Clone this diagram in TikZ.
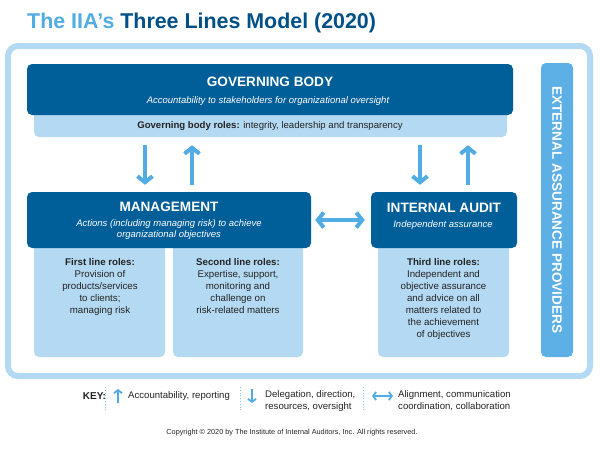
\documentclass[tikz,border=0pt]{standalone}
\usepackage{fontspec}
\setmainfont{Liberation Sans}
\usetikzlibrary{arrows.meta}
\definecolor{iiadark}{RGB}{0,94,152}
\definecolor{iiatitle}{RGB}{0,80,136}
\definecolor{iiasky}{RGB}{80,172,226}
\definecolor{iialight}{RGB}{180,217,242}
\definecolor{iiaext}{RGB}{92,176,230}
\definecolor{iiatext}{RGB}{35,35,35}
\begin{document}
\begin{tikzpicture}[x=1pt,y=-1pt,
   darkbox/.style={fill=iiadark, rounded corners=5pt, inner sep=0pt},
   lightbox/.style={fill=iialight, rounded corners=5pt, inner sep=0pt},
   head/.style={text=white, font=\fontsize{13.6}{15}\selectfont\bfseries},
   sub/.style={text=white, align=center, font=\fontsize{9.5}{11}\selectfont\itshape},
   roles/.style={text=iiatext, align=center, anchor=north, inner sep=0pt,
                 font=\fontsize{9.7}{12}\selectfont},
   keytext/.style={text=iiatext, align=left, anchor=west, inner sep=0pt,
                   font=\fontsize{9.6}{12}\selectfont},
   flow/.style={draw=iiasky, line width=4pt,
                -{Straight Barb[length=6pt,width=15pt]}},
   both/.style={draw=iiasky, line width=4pt,
                {Straight Barb[length=6pt,width=15pt]}-{Straight Barb[length=6pt,width=15pt]}},
   keyflow/.style={draw=iiasky, line width=1.8pt,
                   -{Straight Barb[length=3pt,width=8pt]}},
   keyboth/.style={draw=iiasky, line width=1.8pt,
                   {Straight Barb[length=3pt,width=8pt]}-{Straight Barb[length=3pt,width=8pt]}},
   keysep/.style={draw=iiasky!70, line width=0.8pt, dotted}]

\useasboundingbox (0,0) rectangle (600,448);

\node[anchor=base west, inner sep=0pt, text=iiatitle,
      font=\fontsize{21.4}{24}\selectfont\bfseries] (title) at (27,28)
   {\textcolor{iiasky}{The IIA’s} Three Lines Model (2020)};

\draw[draw=iialight, line width=6pt, rounded corners=10pt] (8,46) rectangle (590,376);

% governing body
\node[lightbox, minimum width=473pt, minimum height=37pt] (gbroles) at (270.5,118.5) {};
\node[darkbox, minimum width=486pt, minimum height=51pt] (gbody) at (270,89.5) {};
\node[head] (gbody-t) at (270,82) {GOVERNING BODY};
\node[sub] (gbody-s) at (268,101) {Accountability to stakeholders for organizational oversight};
\node[text=iiatext, font=\fontsize{9.6}{11}\selectfont] (gbroles-t) at (270,126)
   {\textbf{Governing body roles:} integrity, leadership and transparency};

% management
\node[lightbox, minimum width=131pt, minimum height=127pt] (first) at (99.5,293.5) {};
\node[lightbox, minimum width=130pt, minimum height=127pt] (second) at (238,293.5) {};
\node[darkbox, minimum width=284pt, minimum height=56pt] (mgmt) at (169,220) {};
\node[head] (mgmt-t) at (169,207) {MANAGEMENT};
\node[sub] (mgmt-s) at (169,229.5) {Actions (including managing risk) to achieve\\organizational objectives};
\node[roles] (first-t) at (100,258)
   {\textbf{First line roles:}\\Provision of\\products/services\\to clients;\\managing risk};
\node[roles] (second-t) at (238,258)
   {\textbf{Second line roles:}\\Expertise, support,\\monitoring and\\challenge on\\risk-related matters};

% internal audit
\node[lightbox, minimum width=131pt, minimum height=127pt] (third) at (443.5,293.5) {};
\node[darkbox, minimum width=146pt, minimum height=56pt] (iaudit) at (444,220) {};
\node[head] (iaudit-t) at (444,208) {INTERNAL AUDIT};
\node[sub] (iaudit-s) at (443,225) {Independent assurance};
\node[roles] (third-t) at (443.5,258)
   {\textbf{Third line roles:}\\Independent and\\objective assurance\\and advice on all\\matters related to\\the achievement\\of objectives};

% external assurance
\node[fill=iiaext, rounded corners=5pt, minimum width=32pt, minimum height=294pt] (ext) at (557,210) {};
\node[head, rotate=-90] (ext-t) at (557,210) {EXTERNAL ASSURANCE PROVIDERS};

% arrows
\draw[flow, shorten <=8pt, shorten >=7pt] ([xshift=-24pt]gbroles.south -| mgmt.north) -- ([xshift=-24pt]mgmt.north);
\draw[flow, shorten <=7pt, shorten >=8pt] ([xshift=23pt]mgmt.north) -- ([xshift=23pt]gbroles.south -| mgmt.north);
\draw[flow, shorten <=8pt, shorten >=7pt] ([xshift=-24pt]gbroles.south -| iaudit.north) -- ([xshift=-24pt]iaudit.north);
\draw[flow, shorten <=7pt, shorten >=8pt] ([xshift=24pt]iaudit.north) -- ([xshift=24pt]gbroles.south -| iaudit.north);
\draw[both, shorten <=4pt, shorten >=6pt] (mgmt.east) -- (iaudit.west);

% key
\node[text=iiatext, inner sep=0pt, font=\fontsize{10}{12}\selectfont\bfseries] (key) at (94.5,396) {KEY:};
\node[keytext] (kacc) at (128,396) {Accountability, reporting};
\node[keytext] (kdel) at (265,401) {Delegation, direction,\\resources, oversight};
\node[keytext] (kali) at (398,401) {Alignment, communication\\coordination, collaboration};
\coordinate (sep1) at (105,387);
\coordinate (sep2) at (240,387);
\coordinate (sep3) at (363,387);
\draw[keysep] (sep1) -- ++(0,23);
\draw[keysep] (sep2) -- ++(0,23);
\draw[keysep] (sep3) -- ++(0,23);
\draw[keyflow] ([xshift=-10pt,yshift=-7pt]kacc.west) -- ([xshift=-10pt,yshift=7pt]kacc.west);
\draw[keyflow] ([xshift=-13pt,yshift=12pt]kdel.west) -- ([xshift=-13pt,yshift=-2pt]kdel.west);
\draw[keyboth] ([xshift=-26pt,yshift=5pt]kali.west) -- ([xshift=-5pt,yshift=5pt]kali.west);

\node[text=iiatext, font=\fontsize{7.3}{8}\selectfont] (copy) at (292,433)
   {Copyright © 2020 by The Institute of Internal Auditors, Inc. All rights reserved.};

\end{tikzpicture}
\end{document}
